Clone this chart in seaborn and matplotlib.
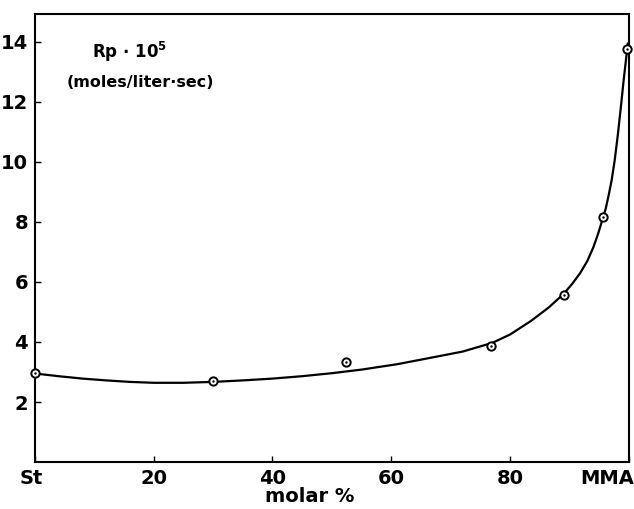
import matplotlib
matplotlib.use('Agg')
import matplotlib.pyplot as plt
import matplotlib.transforms as mtransforms
import seaborn as sns

# measured points (molar % MMA, Rp * 10^5)
molar = [0, 30, 52.4, 76.8, 89.1, 95.6, 99.7]
rate = [2.98, 2.70, 3.34, 3.88, 5.57, 8.17, 13.77]

# smooth hand-drawn curve
curve_x = [0, 4, 8, 12, 16, 20, 25, 30, 35, 40, 45, 50, 55, 61, 66, 72, 77, 80, 83.5, 86.5,
           89, 90.5, 91.8, 93.0, 94.0, 94.8, 95.5, 96.1, 96.6, 97.1, 97.6, 98.1, 98.6, 99.1, 99.5, 99.8]
curve_y = [2.95, 2.86, 2.78, 2.72, 2.67, 2.64, 2.64, 2.67, 2.72, 2.78, 2.86, 2.96, 3.08, 3.26, 3.45, 3.68,
           3.97, 4.25, 4.70, 5.15, 5.60, 5.95, 6.30, 6.70, 7.15, 7.60, 8.05, 8.45, 8.90, 9.40, 10.05,
           10.85, 11.75, 12.70, 13.40, 13.95]

xticks = [0, 20, 40, 60, 80, 100]
xticklabels = ['St', '20', '40', '60', '80', 'MMA']
yticks = [2, 4, 6, 8, 10, 12, 14]

sns.set_style('ticks')
plt.rcParams['font.family'] = ['DejaVu Sans']
plt.rcParams['font.weight'] = 'bold'
plt.rcParams['text.color'] = 'black'
plt.rcParams['xtick.color'] = 'black'
plt.rcParams['ytick.color'] = 'black'
plt.rcParams['axes.labelcolor'] = 'black'

fig = plt.figure(figsize=(6.34, 5.09), dpi=100)
ax = fig.add_axes([0.055, 0.0923, 0.937, 0.8802])

sns.lineplot(x=curve_x, y=curve_y, sort=False, estimator=None, color='black', linewidth=1.6, ax=ax)
sns.scatterplot(x=molar, y=rate, marker='o', s=36, facecolor='white', edgecolor='black',
                linewidth=1.4, zorder=5, clip_on=False, ax=ax)
sns.scatterplot(x=molar, y=rate, marker='o', s=3, color='black', linewidth=0,
                zorder=6, clip_on=False, ax=ax)

ax.set_xlim(0, 100)
ax.set_ylim(0, 14.93)
ax.set_xticks(xticks)
ax.set_xticklabels(xticklabels)
ax.set_yticks(yticks)
ax.tick_params(direction='in', length=4, width=1, labelsize=14, pad=5)
labs = ax.get_xticklabels()
labs[0].set_transform(labs[0].get_transform() + mtransforms.ScaledTranslation(-4 / 100, 0, fig.dpi_scale_trans))
labs[-1].set_horizontalalignment('right')
labs[-1].set_transform(labs[-1].get_transform() + mtransforms.ScaledTranslation(5 / 100, 0, fig.dpi_scale_trans))
for s in ax.spines.values():
    s.set_linewidth(1.5)
    s.set_color('black')

ax.set_xlabel('molar %', fontsize=14, fontweight='bold', labelpad=2)
ax.xaxis.set_label_coords((310 - 35) / 594, -0.055)
ax.set_ylabel('')

ax.text(16, 13.65, r'Rp $\cdot$ 10$^5$', fontsize=12, fontweight='bold', ha='center', va='center')
ax.text(17.8, 12.65, '(moles/liter·sec)', fontsize=11.5, fontweight='bold', ha='center', va='center')

fig.savefig('out.png', dpi=100)
